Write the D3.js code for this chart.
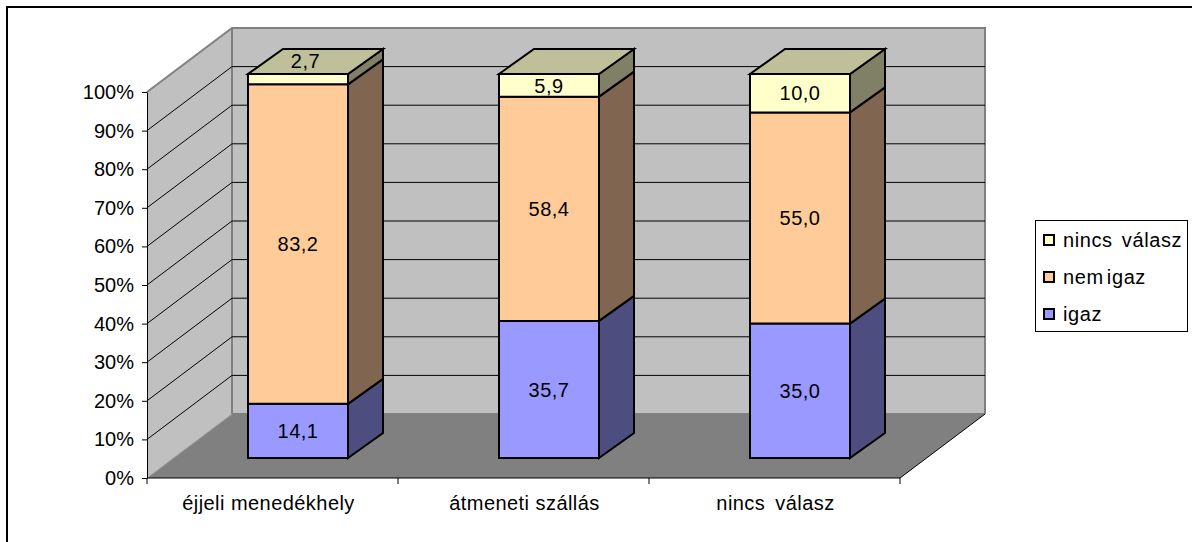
<!DOCTYPE html>
<html><head><meta charset="utf-8">
<script src="https://cdn.jsdelivr.net/npm/d3@7/dist/d3.min.js"></script>
<style>html,body{margin:0;padding:0;background:#fff}svg{display:block}text{font-family:"Liberation Sans",Arial,sans-serif;fill:#000}</style>
</head><body><svg id="c" width="1192" height="542"></svg>
<script>
const categories = ["éjjeli menedékhely","átmeneti szállás","nincs válasz"];
const igaz = [14.1,35.7,35.0];
const nemIgaz = [83.2,58.4,55.0];
const nincsValasz = [2.7,5.9,10.0];
const seriesNames = ["igaz","nem igaz","nincs válasz"];
const tickValues = [0,10,20,30,40,50,60,70,80,90,100];

const colors = ["#9999ff","#ffcc99","#ffffcc"];
const sideColors = ["#4d4d80","#806650","#808066"];
const topColors = ["#7373bf","#bfa673","#bfbf99"];
const FS = 20;

const svg = d3.select("#c");
const line=d3.line();
svg.append("path").attr("d",line([[7,542],[7,7],[1192,7]])).attr("fill","none").attr("stroke","#000").attr("stroke-width",2);

const x0=147,x1=900,y0=478,y100=92,depthX=85,depthY=-64;
const x=d3.scaleBand().domain(categories).range([x0,x1]);
const y=d3.scaleLinear().domain([0,100]).range([y0,y100]);
const poly=(p,fill,stroke,sw)=>svg.append("path").attr("d",line(p)+"Z").attr("fill",fill).attr("stroke",stroke||"none").attr("stroke-width",sw||0).attr("stroke-linejoin","miter");

// walls
poly([[x0+depthX,y0+depthY],[x1+depthX,y0+depthY],[x1+depthX,y100+depthY],[x0+depthX,y100+depthY]],"#c0c0c0");
poly([[x0,y0],[x0+depthX,y0+depthY],[x0+depthX,y100+depthY],[x0,y100]],"#c0c0c0");
poly([[x0,y0],[x1,y0],[x1+depthX,y0+depthY],[x0+depthX,y0+depthY]],"#808080");
const grey="#808080";
svg.append("path").attr("d",line([[x0,y100],[x0+depthX,y100+depthY],[x1+depthX,y100+depthY],[x1+depthX,y0+depthY]])).attr("fill","none").attr("stroke",grey).attr("stroke-width",2);
svg.append("path").attr("d",line([[x0+depthX,y100+depthY],[x0+depthX,y0+depthY],[x1+depthX,y0+depthY]])).attr("fill","none").attr("stroke",grey).attr("stroke-width",2);
svg.append("path").attr("d",line([[x0,y0],[x0+depthX,y0+depthY]])).attr("fill","none").attr("stroke","#a0a0a0").attr("stroke-width",1);
svg.append("path").attr("d",line([[x1,y0],[x1+depthX,y0+depthY]])).attr("fill","none").attr("stroke","#000").attr("stroke-width",1);
// gridlines
tickValues.filter(t=>t>0&&t<100).forEach(t=>{
  svg.append("path").attr("d",line([[x0,y(t)],[x0+depthX,y(t)+depthY],[x1+depthX,y(t)+depthY]])).attr("fill","none").attr("stroke","#000").attr("stroke-width",1);
});

// axes
const yAxis=d3.axisLeft(y).tickValues(tickValues).tickFormat(d=>d+"%").tickSize(5).tickSizeOuter(0);
const gy=svg.append("g").attr("transform",`translate(${x0},0)`).call(yAxis);
gy.selectAll("text").attr("font-size",FS).attr("x",-13).style("font-family",'"Liberation Sans",Arial,sans-serif').attr("fill","#000");
gy.selectAll("line,path").attr("stroke","#000");
svg.append("line").attr("x1",x0).attr("x2",x1).attr("y1",y0).attr("y2",y0).attr("stroke","#000").attr("stroke-width",1);
d3.range(0,4).forEach(i=>{
  const tx=x0+i*x.bandwidth();
  svg.append("line").attr("x1",tx).attr("x2",tx).attr("y1",y0).attr("y2",y0+6).attr("stroke","#000");
});
categories.forEach((c,i)=>{
  svg.append("text").attr("x",x(c)+x.bandwidth()/2+(i===0?-4:1)).attr("y",510).attr("text-anchor","middle")
    .attr("font-size",FS).attr("letter-spacing",0.45).attr("word-spacing",i===2?4:0).text(c);
});

// bars
const barW=100, bDX=35, bDY=-25;
const yBar=d3.scaleLinear().domain([0,100]).range([458,74]);
const stacks=[igaz,nemIgaz,nincsValasz];
categories.forEach((c,i)=>{
  const L=x(c)+25.5+(x.bandwidth()-barW)/2, R=L+barW;
  let base=0;
  stacks.forEach((vals,s)=>{
    const v=vals[i], a=yBar(base), b=yBar(base+v);
    poly([[R,a],[R+bDX,a+bDY],[R+bDX,b+bDY],[R,b]],sideColors[s],"#000",2);
    poly([[L,a],[R,a],[R,b],[L,b]],colors[s],"#000",2);
    base+=v;
  });
  const t=yBar(base);
  poly([[L,t],[R,t],[R+bDX,t+bDY],[L+bDX,t+bDY]],topColors[2],"#000",2);
  base=0;
  stacks.forEach((vals,s)=>{
    const v=vals[i];
    const label=v.toFixed(1).replace(".",",");
    let cy=(yBar(base)+yBar(base+v))/2, cx=(L+R)/2;
    if(s===2&&i===0){cx=(L+R)/2+7.5;cy=t-13;}
    svg.append("text").attr("x",cx).attr("y",cy).attr("dy","0.36em").attr("text-anchor","middle").attr("font-size",FS).attr("letter-spacing",0.5).text(label);
    base+=v;
  });
});

// legend
svg.append("rect").attr("x",1035.5).attr("y",220.5).attr("width",152).attr("height",111).attr("fill","#fff").attr("stroke","#000").attr("stroke-width",1);
[2,1,0].forEach((s,k)=>{
  const cy=240+k*37;
  svg.append("rect").attr("x",1044).attr("y",cy-5).attr("width",10).attr("height",10).attr("fill",colors[s]).attr("stroke","#000").attr("stroke-width",2);
  svg.append("text").attr("x",1063).attr("y",cy).attr("dy","0.36em").attr("font-size",FS).attr("letter-spacing",0.6).attr("word-spacing",s===2?3:-3).text(seriesNames[s]);
});
</script></body></html>
